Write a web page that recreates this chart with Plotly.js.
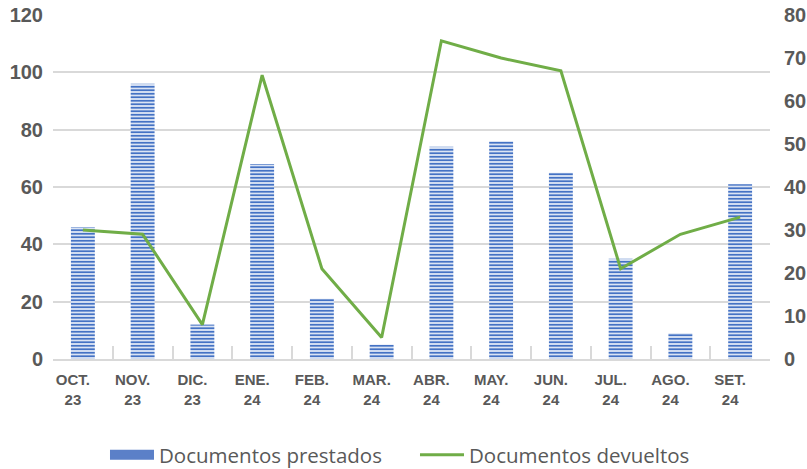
<!DOCTYPE html>
<html>
<head>
<meta charset="utf-8">
<script src="https://cdn.plot.ly/plotly-3.0.1.min.js"></script>
<style>
html,body{margin:0;padding:0;background:#fff;}
#chart{width:807px;height:469px;}
</style>
</head>
<body>
<div id="chart"></div>
<script>
const categories = ["OCT.<br>23","NOV.<br>23","DIC.<br>23","ENE.<br>24","FEB.<br>24","MAR.<br>24","ABR.<br>24","MAY.<br>24","JUN.<br>24","JUL.<br>24","AGO.<br>24","SET.<br>24"];
const prestados = [46, 96, 12, 68, 21, 5, 74, 76, 65, 35, 9, 61];
const devueltos = [30, 29, 8, 66, 21, 5, 74, 70, 67, 21, 29, 33];
const leftTicks = [0, 20, 40, 60, 80, 100, 120];
const rightTicks = [0, 10, 20, 30, 40, 50, 60, 70, 80];
const seriesNames = ["Documentos prestados", "Documentos devueltos"];

const tickFont = {family: "Liberation Sans, Arial, sans-serif", size: 20, color: "#595959", weight: "bold"};
const xFont = {family: "Liberation Sans, Arial, sans-serif", size: 15, color: "#595959", weight: "bold"};

const traces = [
  {
    type: "bar",
    name: seriesNames[0],
    x: categories,
    y: prestados,
    showlegend: false,
    marker: {
      color: "#dbe4f4",
      line: {width: 0},
      pattern: {shape: "-", fillmode: "replace", fgcolor: "#4472C4", bgcolor: "#dbe4f4", size: 3.5, solidity: 0.5}
    },
    hoverinfo: "skip"
  },
  {
    // legend key for the bars
    type: "scatter",
    mode: "lines",
    name: seriesNames[0],
    x: [null],
    y: [null],
    showlegend: true,
    line: {color: "#5b80c8", width: 10},
    hoverinfo: "skip"
  },
  {
    type: "scatter",
    mode: "lines",
    name: seriesNames[1],
    x: categories,
    y: devueltos,
    yaxis: "y2",
    line: {color: "#70AD47", width: 3},
    hoverinfo: "skip"
  }
];

const layout = {
  width: 807,
  height: 469,
  margin: {l: 53, r: 37, t: 15, b: 110},
  paper_bgcolor: "#ffffff",
  plot_bgcolor: "#ffffff",
  bargap: 0.6,
  showlegend: true,
  legend: {
    orientation: "h",
    xref: "container", yref: "container",
    x: 0.1301, xanchor: "left",
    y: 0.03, yanchor: "middle",
    font: {family: "Open Sans, sans-serif", size: 20.5, color: "#595959"},
    itemwidth: 44,
    entrywidth: 251,
    entrywidthmode: "pixels",
    traceorder: "normal"
  },
  xaxis: {
    type: "category",
    showgrid: false,
    showline: true,
    linecolor: "#d9d9d9",
    linewidth: 2,
    ticks: "inside",
    tickson: "boundaries",
    ticklen: 13,
    tickwidth: 2,
    tickcolor: "#d9d9d9",
    tickfont: xFont,
    ticklabelshift: -10,
    ticklabelstandoff: 6,
    zeroline: false,
    fixedrange: true
  },
  yaxis: {
    range: [0, 120],
    tickvals: leftTicks,
    showgrid: true,
    gridcolor: "#d9d9d9",
    gridwidth: 2,
    zeroline: false,
    showline: false,
    ticks: "",
    tickfont: tickFont,
    ticklabelstandoff: 9,
    fixedrange: true
  },
  yaxis2: {
    range: [0, 80],
    tickvals: rightTicks,
    overlaying: "y",
    side: "right",
    showgrid: false,
    zeroline: false,
    showline: false,
    ticks: "",
    tickfont: tickFont,
    ticklabelstandoff: 13,
    fixedrange: true
  }
};

Plotly.newPlot("chart", traces, layout, {displayModeBar: false, staticPlot: true});
</script>
</body>
</html>
